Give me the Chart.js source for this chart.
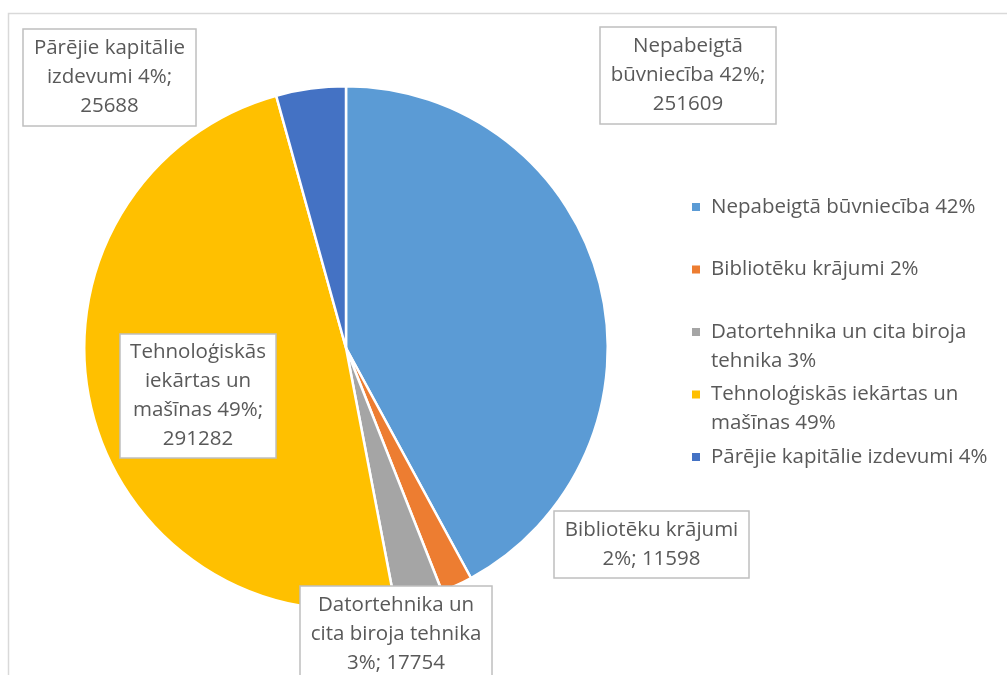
<!DOCTYPE html>
<html>
<head>
<meta charset="utf-8">
<style>
  html, body { margin: 0; padding: 0; background: #fff; }
  #wrap { width: 1007px; height: 675px; position: relative; }
</style>
<script src="https://cdn.jsdelivr.net/npm/chart.js@4/dist/chart.umd.min.js"></script>
</head>
<body>
<div id="wrap"><canvas id="pieChart" width="1007" height="675"></canvas></div>
<script>
// Data
const categories = [
    'Nepabeigtā būvniecība',
    'Bibliotēku krājumi',
    'Datortehnika un cita biroja tehnika',
    'Tehnoloģiskās iekārtas un mašīnas',
    'Pārējie kapitālie izdevumi'
];
const values = [251609, 11598, 17754, 291282, 25688];
const colors = ['#5B9BD5', '#ED7D31', '#A5A5A5', '#FFC000', '#4472C4'];

// Layout of the data label boxes (center x, center y, width, height) and word counts per line
const labelBoxes = [
    [688, 75.5, 176, 97],
    [651.5, 544.5, 195, 67],
    [396, 634.5, 192, 97],
    [198, 396, 156, 124],
    [109.5, 77.5, 173, 97]
];
const labelWords = [[1, 2, 1], [2, 2], [2, 3, 2], [1, 2, 2, 1], [2, 2, 1]];
const legendWords = [[3], [3], [4, 2], [3, 2], [4]];

const FONT = '20.5px "Open Sans"';
const TEXT_COLOR = '#595959';
const LINE_H = 29;

const total = values.reduce((a, b) => a + b, 0);
const pct = values.map(v => Math.round(v / total * 100));

function splitWords(text, counts) {
    const words = text.split(' ');
    const lines = [];
    let k = 0;
    counts.forEach(n => {
        lines.push(words.slice(k, k + n).join(' '));
        k += n;
    });
    return lines;
}

// frame + labels + legend
const decorations = {
    id: 'decorations',
    beforeDraw(chart) {
        const ctx = chart.ctx;
        ctx.save();
        ctx.fillStyle = '#fff';
        ctx.fillRect(0, 0, chart.width, chart.height);
        ctx.strokeStyle = '#D9D9D9';
        ctx.lineWidth = 1.5;
        ctx.strokeRect(8.5, 13.5, 1200, 900);
        ctx.restore();
    },
    afterDraw(chart) {
        const ctx = chart.ctx;
        ctx.save();
        ctx.font = FONT;
        ctx.textAlign = 'center';
        ctx.textBaseline = 'middle';

        // data labels
        categories.forEach((cat, i) => {
            const [cx, cy, w, h] = labelBoxes[i];
            const text = `${cat} ${pct[i]}%; ${values[i]}`;
            const lines = splitWords(text, labelWords[i]);
            ctx.fillStyle = '#fff';
            ctx.fillRect(cx - w / 2, cy - h / 2, w, h);
            ctx.strokeStyle = '#BFBFBF';
            ctx.lineWidth = 1.5;
            ctx.strokeRect(cx - w / 2, cy - h / 2, w, h);
            ctx.fillStyle = TEXT_COLOR;
            const top = cy - (lines.length * LINE_H) / 2 + LINE_H / 2;
            lines.forEach((ln, j) => ctx.fillText(ln, cx, top + j * LINE_H));
        });

        // legend
        ctx.textAlign = 'left';
        categories.forEach((cat, i) => {
            const y = 207 + i * 62.5;
            ctx.fillStyle = colors[i];
            ctx.fillRect(692, y - 4, 8, 8);
            ctx.fillStyle = TEXT_COLOR;
            const lines = splitWords(`${cat} ${pct[i]}%`, legendWords[i]);
            lines.forEach((ln, j) => ctx.fillText(ln, 711, y + j * LINE_H));
        });
        ctx.restore();
    }
};

const ctx = document.getElementById('pieChart').getContext('2d');
const pieChart = new Chart(ctx, {
    type: 'pie',
    data: {
        labels: categories,
        datasets: [{
            data: values,
            backgroundColor: colors,
            borderColor: '#fff',
            borderWidth: 2.5
        }]
    },
    options: {
        responsive: false,
        animation: false,
        layout: {
            padding: { top: 85, bottom: 64, left: 83, right: 398 }
        },
        plugins: {
            legend: { display: false },
            tooltip: { enabled: false }
        }
    },
    plugins: [decorations]
});
</script>
</body>
</html>
